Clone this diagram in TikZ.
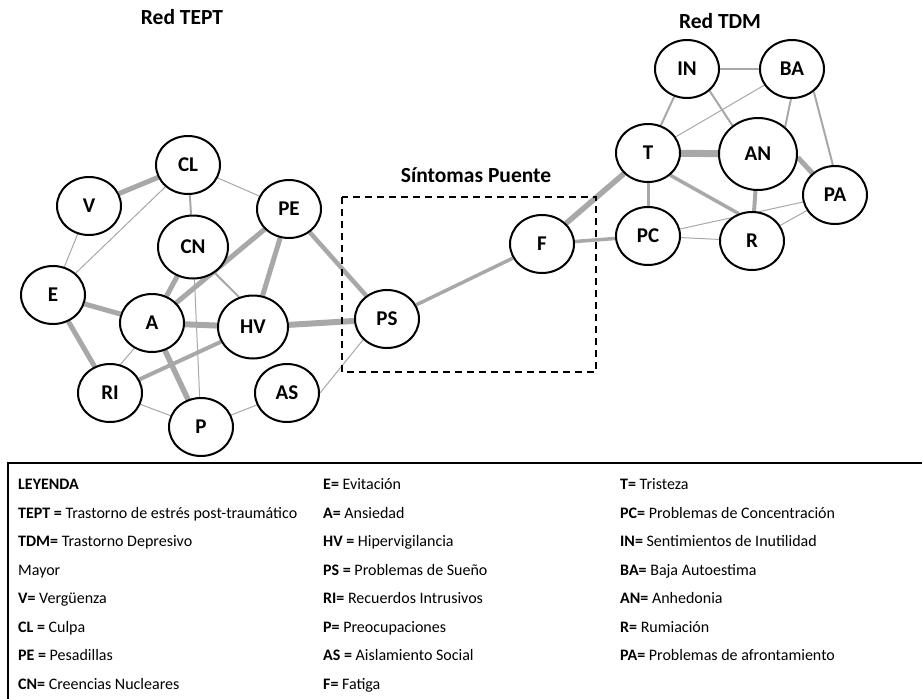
\documentclass[tikz,border=0pt]{standalone}
\usepackage{fontspec}
\setmainfont{Carlito}
\usetikzlibrary{shapes.geometric,backgrounds}
\definecolor{edgegray}{HTML}{A8A8A8}

\begin{document}
\begin{tikzpicture}[x=1pt,y=-1pt,
  sym/.style={ellipse, draw=black, line width=2pt, fill=white,
    minimum width=64pt, minimum height=58pt, inner sep=0pt,
    font=\bfseries\fontsize{21}{21}\selectfont},
  big/.style={minimum width=70pt, minimum height=63pt},
  link/.style={draw=edgegray, line width=#1},
  title/.style={font=\bfseries\fontsize{21.5}{21.5}\selectfont, inner sep=0pt},
  leg/.style={anchor=base west, inner sep=0pt, font=\fontsize{16}{16}\selectfont},
  bridge/.style={draw=black, line width=1.6pt, dash pattern=on 7pt off 5pt}
]
\useasboundingbox (0,0) rectangle (922,699);

% group titles
\node[title] (tTEPT) at (182,17) {Red TEPT};
\node[title] (tTDM) at (720,21) {Red TDM};
\node[title] (tPuente) at (476,175) {Síntomas Puente};

% bridge region
\draw[bridge] (342,197) rectangle (596,372);

% PTSD symptoms
\node[sym] (CL) at (188,165) {CL};
\node[sym] (V) at (89,206) {V};
\node[sym] (PE) at (289,209) {PE};
\node[sym,big] (CN) at (193,247) {CN};
\node[sym] (E) at (53,295) {E};
\node[sym] (A) at (152,323) {A};
\node[sym,big] (HV) at (253,327) {HV};
\node[sym] (PS) at (387,319) {PS};
\node[sym] (RI) at (110,393) {RI};
\node[sym] (P) at (201,427) {P};
\node[sym] (AS) at (287,393) {AS};

% bridge symptom
\node[sym] (F) at (542,244) {F};

% depression symptoms
\node[sym] (IN) at (687,69) {IN};
\node[sym] (BA) at (792,69) {BA};
\node[sym] (T) at (648,153) {T};
\node[sym, minimum width=78pt, minimum height=72pt] (AN) at (758,154) {AN};
\node[sym] (PA) at (835,195) {PA};
\node[sym] (PC) at (648,236) {PC};
\node[sym] (R) at (752,241) {R};

\begin{scope}[on background layer]
  % PTSD network
  \draw[link=5pt] (V) -- (CL);
  \draw[link=1pt] (V) -- (E);
  \draw[link=1pt] (CL) -- (E);
  \draw[link=2pt] (CL) -- (CN);
  \draw[link=1pt] (CL) -- (PE);
  \draw[link=5pt] (PE) -- (A);
  \draw[link=5pt] (PE) -- (HV);
  \draw[link=4.5pt] (PE) -- (PS);
  \draw[link=5pt] (CN) -- (A);
  \draw[link=2pt] (CN.310) -- (HV.115);
  \draw[link=1pt] (CN) -- (P);
  \draw[link=5pt] (E) -- (A);
  \draw[link=5pt] (E) -- (RI);
  \draw[link=6pt] (A) -- (HV);
  \draw[link=5.5pt] (A) -- (P);
  \draw[link=1pt] (A.235) -- (RI.70);
  \draw[link=4pt] (RI) -- (HV);
  \draw[link=6pt] (HV) -- (PS);
  \draw[link=1pt] (AS.east) -- (PS.221);
  \draw[link=1pt] (RI) -- (P);
  \draw[link=1pt] (P) -- (AS);
  % bridge links
  \draw[link=3.5pt] (PS) -- (F);
  \draw[link=5.5pt] (F) -- (T);
  \draw[link=3.5pt] (F) -- (PC);
  % depression network
  \draw[link=2.5pt] (IN) -- (BA);
  \draw[link=2pt] (IN) -- (T);
  \draw[link=2pt] (IN.316) -- (AN.132);
  \draw[link=1pt] (BA) -- (T);
  \draw[link=2pt] (BA.268) -- (AN.45);
  \draw[link=2pt] (BA.314) -- (PA.94);
  \draw[link=7pt] (T) -- (AN);
  \draw[link=3pt] (T) -- (PC);
  \draw[link=3.5pt] (T.315) -- (R.116);
  \draw[link=5pt] (AN.-5) -- (PA.136);
  \draw[link=4pt] (AN) -- (R);
  \draw[link=1pt] (PC) -- (R);
  \draw[link=1pt] (PC) -- (PA);
  \draw[link=1pt] (R) -- (PA);
\end{scope}

% legend frame
\draw[line width=1.5pt] (8,699) -- (8,463) -- (922,463);

% legend, first column
\node[leg] (l1) at (18,489) {\textbf{LEYENDA}};
\node[leg] (l2) at (18,518) {\textbf{TEPT =} Trastorno de estrés post-traumático};
\node[leg] (l3) at (18,546) {\textbf{TDM=} Trastorno Depresivo};
\node[leg] (l4) at (18,575) {Mayor};
\node[leg] (l5) at (18,603) {\textbf{V=} Vergüenza};
\node[leg] (l6) at (18,632) {\textbf{CL =} Culpa};
\node[leg] (l7) at (18,660) {\textbf{PE =} Pesadillas};
\node[leg] (l8) at (18,689) {\textbf{CN=} Creencias Nucleares};
% second column
\node[leg] (m1) at (323,489) {\textbf{E=} Evitación};
\node[leg] (m2) at (323,518) {\textbf{A=} Ansiedad};
\node[leg] (m3) at (323,546) {\textbf{HV =} Hipervigilancia};
\node[leg] (m4) at (323,575) {\textbf{PS =} Problemas de Sueño};
\node[leg] (m5) at (323,603) {\textbf{RI=} Recuerdos Intrusivos};
\node[leg] (m6) at (323,632) {\textbf{P=} Preocupaciones};
\node[leg] (m7) at (323,660) {\textbf{AS =} Aislamiento Social};
\node[leg] (m8) at (323,689) {\textbf{F=} Fatiga};
% third column
\node[leg] (r1) at (620,489) {\textbf{T=} Tristeza};
\node[leg] (r2) at (620,518) {\textbf{PC=} Problemas de Concentración};
\node[leg] (r3) at (620,546) {\textbf{IN=} Sentimientos de Inutilidad};
\node[leg] (r4) at (620,575) {\textbf{BA=} Baja Autoestima};
\node[leg] (r5) at (620,603) {\textbf{AN=} Anhedonia};
\node[leg] (r6) at (620,632) {\textbf{R=} Rumiación};
\node[leg] (r7) at (620,660) {\textbf{PA=} Problemas de afrontamiento};
\end{tikzpicture}
\end{document}
